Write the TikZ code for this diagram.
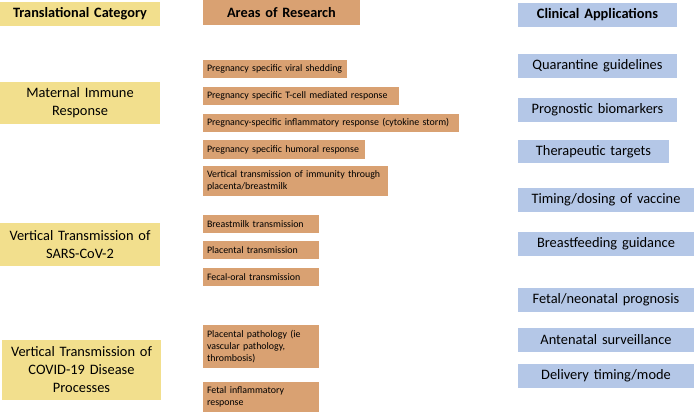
\documentclass[tikz,border=0pt]{standalone}
\usepackage{fontspec}
\setmainfont{Carlito}
\hyphenpenalty=10000
\definecolor{ycol}{HTML}{F2DF8D}
\definecolor{ocol}{HTML}{D9A172}
\definecolor{bcol}{HTML}{B4C7E7}
\newcommand\mkbox[7]{%
  \pgfmathsetmacro\bxcx{(#3+#5)/2}\pgfmathsetmacro\bxcy{(#4+#6)/2}%
  \pgfmathsetmacro\bxw{#5-#3}\pgfmathsetmacro\bxh{#6-#4}\pgfmathsetmacro\bxtw{#5-#3-8}%
  \node[#2, minimum width=\bxw pt, minimum height=\bxh pt, text width=\bxtw pt] (#1) at (\bxcx,\bxcy) {#7};}
\begin{document}
\begin{tikzpicture}[x=1pt,y=-1pt,
  basebox/.style={inner xsep=4pt, inner ysep=0pt, outer sep=0pt},
  ybox/.style={basebox, fill=ycol, align=center, font=\fontsize{14.4}{18}\selectfont},
  yhead/.style={basebox, fill=ycol, align=center, font=\fontsize{14.3}{16}\selectfont\bfseries},
  obox/.style={basebox, fill=ocol, align=left, font=\fontsize{9.9}{12}\selectfont},
  ohead/.style={basebox, fill=ocol, align=center, font=\fontsize{14.3}{16}\selectfont\bfseries},
  bbox/.style={basebox, fill=bcol, align=center, font=\fontsize{14.4}{16}\selectfont},
  bhead/.style={basebox, fill=bcol, align=center, font=\fontsize{14.4}{16}\selectfont\bfseries}]
\useasboundingbox[fill=white] (0,0) rectangle (694,413);
% left column
\mkbox{tc}{yhead}{0}{2}{160}{26}{Translational Category}
\mkbox{mir}{ybox}{0}{82}{160}{124}{Maternal Immune\\Response}
\mkbox{vts}{ybox}{0}{223}{160}{266}{Vertical Transmission of\\SARS-CoV-2}
\mkbox{vtc}{ybox}{2}{340}{161}{400}{Vertical Transmission of\\COVID-19 Disease\\Processes}
% middle column
\mkbox{ar}{ohead}{203}{0}{360}{25}{Areas of Research}
\mkbox{r1}{obox}{203}{60}{347}{78}{Pregnancy specific viral shedding}
\mkbox{r2}{obox}{203}{87}{399}{105}{Pregnancy specific T-cell mediated response}
\mkbox{r3}{obox}{203}{114}{459}{132}{Pregnancy-specific inflammatory response (cytokine storm)}
\mkbox{r4}{obox}{203}{140}{365}{159}{Pregnancy specific humoral response}
\mkbox{r5}{obox}{203}{166}{388}{196}{Vertical transmission of immunity through\\placenta/breastmilk}
\mkbox{r6}{obox}{203}{215}{319}{233}{Breastmilk transmission}
\mkbox{r7}{obox}{203}{241}{319}{259}{Placental transmission}
\mkbox{r8}{obox}{203}{268}{319}{286}{Fecal-oral transmission}
\mkbox{r9}{obox}{203}{325}{319}{368}{Placental pathology (ie\\vascular pathology,\\thrombosis)}
\mkbox{r10}{obox}{203}{382}{319}{412}{Fetal inflammatory\\response}
% right column
\mkbox{ca}{bhead}{518}{3}{677}{27}{Clinical Applications}
\mkbox{c1}{bbox}{518}{54}{677}{78}{Quarantine guidelines}
\mkbox{c2}{bbox}{518}{98}{677}{122}{Prognostic biomarkers}
\mkbox{c3}{bbox}{518}{140}{669}{163}{Therapeutic targets}
\mkbox{c4}{bbox}{518}{188}{694}{212}{Timing/dosing of vaccine}
\mkbox{c5}{bbox}{518}{232}{694}{256}{Breastfeeding guidance}
\mkbox{c6}{bbox}{518}{288}{694}{312}{Fetal/neonatal prognosis}
\mkbox{c7}{bbox}{518}{328}{694}{352}{Antenatal surveillance}
\mkbox{c8}{bbox}{518}{364}{694}{388}{Delivery timing/mode}
\end{tikzpicture}
\end{document}
